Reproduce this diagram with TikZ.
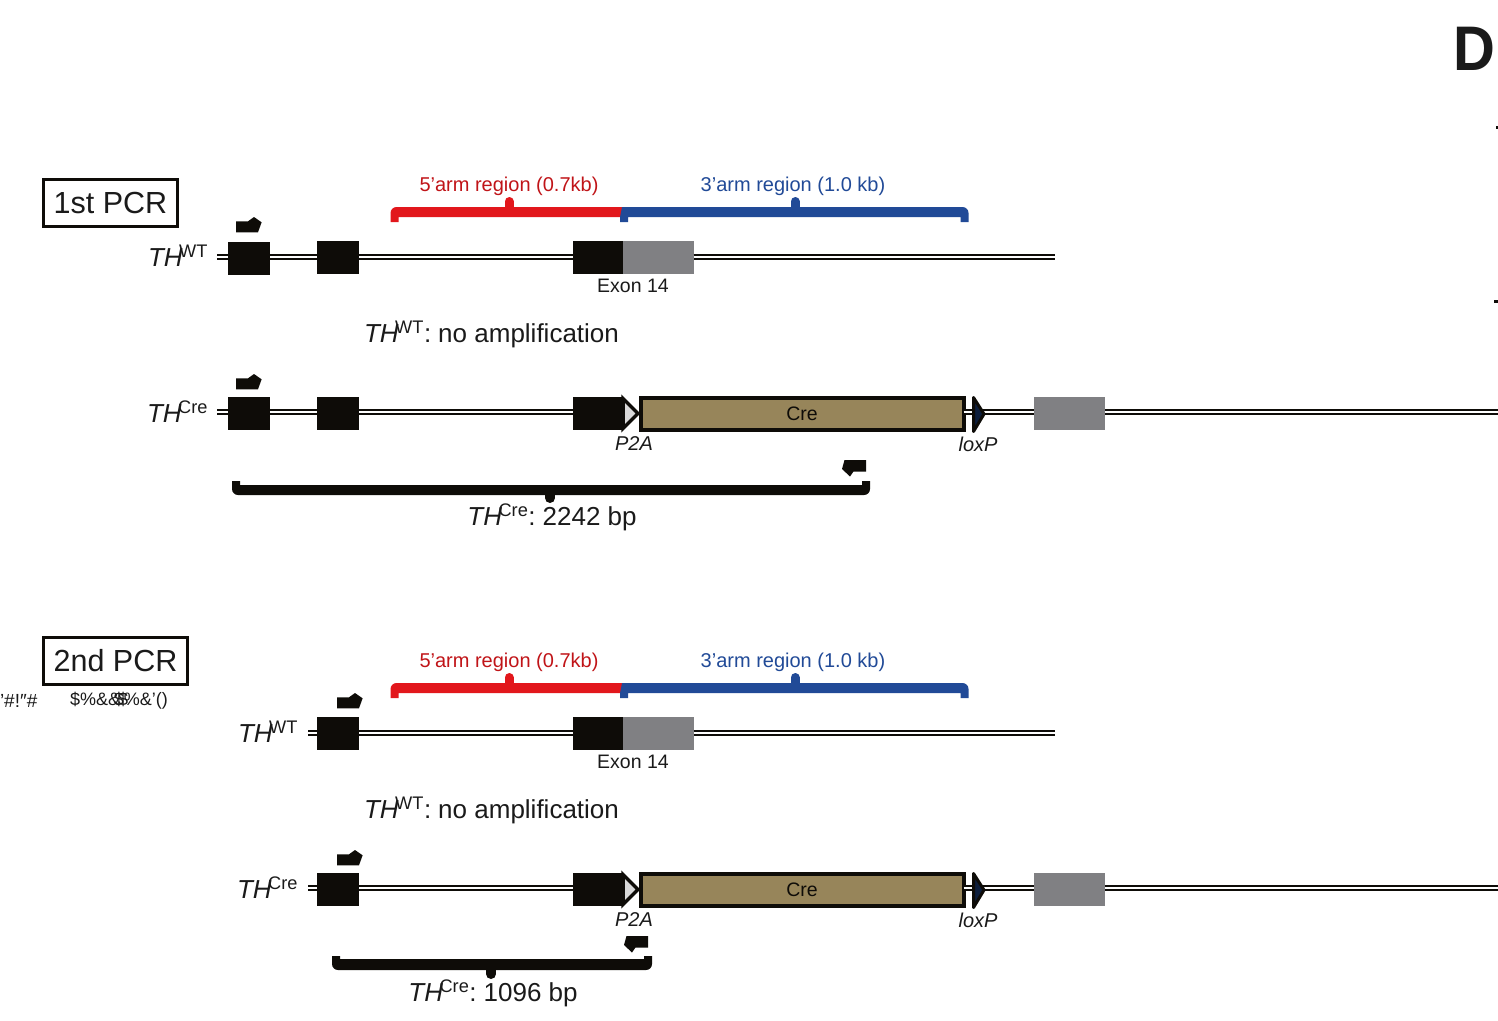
\documentclass[tikz,border=0pt]{standalone}
\usepackage{fontspec}
\setmainfont{Liberation Sans}
\definecolor{exk}{HTML}{0E0C08}
\definecolor{exg}{HTML}{808083}
\definecolor{crefill}{HTML}{97855A}
\definecolor{armred}{HTML}{E2171C}
\definecolor{armblue}{HTML}{214A97}
\definecolor{tlab}{HTML}{1A1A1A}
\newcommand{\fs}[1]{\fontsize{#1}{#1}\selectfont}
\newcommand{\thx}[1]{\textit{TH}\kern-0.12em\textsuperscript{\kern-0.02em #1}}
\tikzset{
 x=1pt,y=-1pt,
 every node/.style={inner sep=0pt,outer sep=0pt,text=tlab},
 exonk/.style={fill=exk,minimum width=42pt,minimum height=33pt},
 exonkw/.style={fill=exk,minimum width=50pt,minimum height=33pt},
 exong/.style={fill=exg,minimum width=71pt,minimum height=33pt},
 dna/.style={draw=exk,line width=1.7pt,double=white,double distance=2.2pt},
 crebox/.style={draw=exk,fill=crefill,line width=4pt,minimum width=323pt,minimum height=32pt,text=exk},
 pcrbox/.style={draw=exk,line width=3pt,minimum height=47pt,font=\fs{30.5}},
 lab19/.style={font=\fs{19.5}},
 lab20/.style={font=\fs{20}},
 lab27/.style={font=\fs{26}},
 itl/.style={font=\fs{20}\itshape},
}
\newcommand{\primerF}[2]{\fill[exk] (#1,#2) ++(0,4.3) -- ++(12,0) -- ++(6,-4.3) -- ++(7.6,5.3) -- ++(-3.6,10) -- ++(-22,0) -- cycle;}
\newcommand{\primerR}[2]{\fill[exk] (#1,#2) ++(2.5,0) -- ++(21.5,0) -- ++(0,11.5) -- ++(-12.5,0) -- ++(-3.5,5) -- ++(-8,-7.5) -- cycle;}
% black bracket: #1 left, #2 right, #3 tick x, #4 inner y, #5 outer y, #6 end y, #7 tick y
\newcommand{\bracketk}[7]{%
 \fill[exk] (#1,#6) [rounded corners=6pt] -- (#1,#5) -- (#2,#5) [sharp corners] -- (#2,#6) -- (#2-8,#6) -- (#2-8,#4) -- (#1+8,#4) -- (#1+8,#6) -- cycle;
 \draw[exk,line width=10pt,line cap=round] (#3,#5) -- (#3,#7);
}
\newcommand{\block}[2]{% #1 prefix #2 y offset
 \begin{scope}[yshift=-#2pt]
 \node[lab20,text=armred!85!black] (#1five) at (509,186) {5’arm region (0.7kb)};
 \node[lab20,text=armblue] (#1three) at (793,186) {3’arm region (1.0 kb)};
 \fill[armred] (390.5,222) [rounded corners=6pt] -- (390.5,207) [sharp corners] -- (622,207) -- (622,217) -- (398.5,217) -- (398.5,222) -- cycle;
 \draw[armred,line width=9pt,line cap=round] (509,210) -- (509,201.5);
 \fill[armblue] (622,207) [rounded corners=6pt] -- (968.5,207) [sharp corners] -- (968.5,222) -- (960.5,222) -- (960.5,217) -- (628,217) -- (628,222) -- (620,222) -- (620,217) -- cycle;
 \draw[armblue,line width=9pt,line cap=round] (795,210) -- (795,201.5);
 \node[exonkw] (#1wtC) at (598,257.5) {};
 \node[exong] (#1wtD) at (658,257.5) {};
 \node[lab19] (#1exon) at (633,285.5) {Exon 14};
 \node[lab27,anchor=west] (#1none) at (364,334) {\thx{WT}:\kern-0.1em{} no amplification};
 \node[exonk] (#1wtB) at (338,257) {};
 \node[exonk] (#1creB) at (338,413) {};
 \node[exonkw] (#1creC) at (598,413.5) {};
 \draw[draw=exk,fill=gray!30,line width=3.5pt,miter limit=3] (623,398.5) -- (638,413.5) -- (623,428.5) -- cycle;
 \node[crebox] (#1cre) at (802,414) {\fs{19.5}Cre};
 \node[exong] (#1creD) at (1069.5,413.5) {};
 \node[itl] (#1ptwo) at (634,444) {P2A};
 \node[itl] (#1lox) at (978,444) {loxP};
 \coordinate (#1wtEnd) at (1055,257);
 \coordinate (#1creEnd) at (1498,412);
 \draw[dna] (#1wtD.east |- #1wtEnd) -- (#1wtEnd);
 \draw[dna] (#1wtB.east |- #1wtEnd) -- (#1wtC.west |- #1wtEnd);
 \draw[dna] (#1creB.east |- #1creEnd) -- (#1creC.west |- #1creEnd);
 \draw[dna] (#1cre.east |- #1creEnd) -- (#1creD.west |- #1creEnd);
 \draw[dna] (#1creD.east |- #1creEnd) -- (#1creEnd);
 \draw[draw=exk,fill=armblue!40!black,line width=3pt,line join=round] (973.5,397.5) -- (984,414) -- (973.5,431.5) -- cycle;
 \end{scope}
}
\begin{document}
\begin{tikzpicture}
\useasboundingbox (0,0) rectangle (1498,1020);
\block{a}{0}
\block{b}{476}
% panel-level items
\node[font=\fs{63}\bfseries,anchor=base west,xscale=0.92] (letterD) at (1453,70) {D};
\fill[exk] (1495.5,126) rectangle (1498,129);
\fill[exk] (1494,300) rectangle (1498,303);
% PCR boxes
\node[pcrbox,minimum width=134pt] (pcra) at (110.5,202.5) {1st PCR};
\node[pcrbox,minimum width=144pt] (pcrb) at (115.5,660.5) {2nd PCR};
\node[font=\fs{19},anchor=west] (junka) at (0,701) {'\#!″\#};
\node[font=\fs{18},anchor=west] (junkb) at (70,701) {\$\%\&\&\kern-0.1em\$\kern-0.8em\$\%\&'()};
% row 1 WT
\node[exonk] (awtA) at (249,258) {};
\node[lab27,anchor=west] (awtl) at (148,256) {\thx{WT}};
\coordinate (awtS) at (217,257);
\draw[dna] (awtS) -- (awtA.west |- awtS);
\draw[dna] (awtA.east |- awtS) -- (awtB.west |- awtS);
\primerF{236}{217}
% row 1 Cre
\node[exonk] (acreA) at (249,413) {};
\node[lab27,anchor=west] (acrel) at (147,412) {\thx{Cre}};
\coordinate (acreS) at (217,412);
\draw[dna] (acreS) -- (acreA.west |- acreS);
\draw[dna] (acreA.east |- acreS) -- (acreB.west |- acreS);
\primerF{236}{374}
\primerR{842}{460}
\bracketk{232}{870}{550}{485}{495}{481}{498}
\node[lab27] (asize) at (552,517) {\thx{Cre}:\kern-0.1em{} 2242 bp};
% row 2 WT
\node[lab27,anchor=west] (bwtl) at (238,732) {\thx{WT}};
\coordinate (bwtS) at (308,733);
\draw[dna] (bwtS) -- (bwtB.west |- bwtS);
\primerF{337}{693}
% row 2 Cre
\node[lab27,anchor=west] (bcrel) at (237,888) {\thx{Cre}};
\coordinate (bcreS) at (308,888);
\draw[dna] (bcreS) -- (bcreB.west |- bcreS);
\primerF{337}{850}
\primerR{624}{936}
\bracketk{332}{652}{491}{959}{970}{956}{974}
\node[lab27] (bsize) at (493,993) {\thx{Cre}:\kern-0.1em{} 1096 bp};
\end{tikzpicture}
\end{document}
